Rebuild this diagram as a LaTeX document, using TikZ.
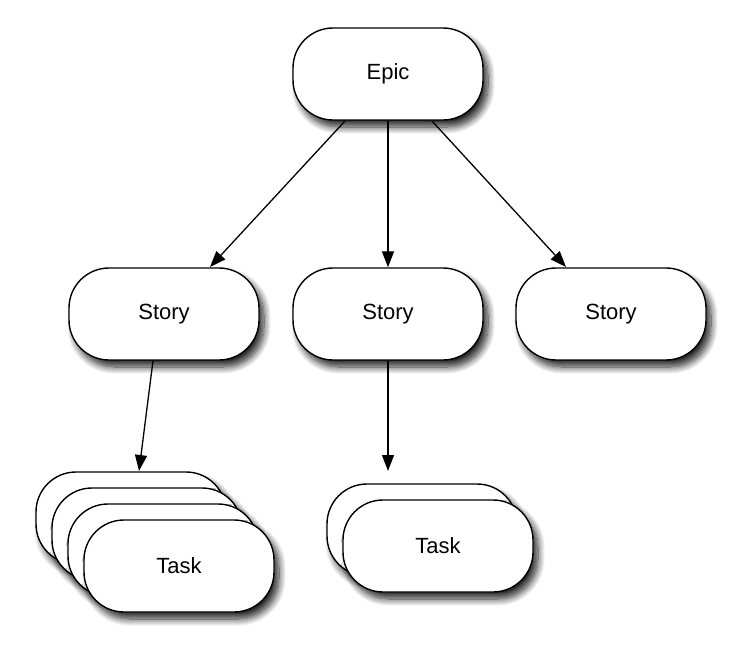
\documentclass[tikz,border=0pt]{standalone}
\usepackage{fontspec}
\setmainfont{Liberation Sans}
\usetikzlibrary{arrows.meta,shadows.blur}

\tikzset{
  pill/.style={draw,line width=1.4pt,fill=white,rounded corners=40pt,
    minimum width=190pt,minimum height=92pt,font=\fontsize{22}{26}\selectfont,
    blur shadow={shadow xshift=5pt,shadow yshift=-7pt,shadow blur radius=7pt,
      shadow blur steps=10,shadow opacity=85}},
  link/.style={-{Triangle[length=16pt,width=12pt]},line width=1.3pt}
}

\begin{document}
\begin{tikzpicture}[x=1pt,y=-1pt]

      \useasboundingbox (0,0) rectangle (737,655);

      % draw epic and stories
      \node[pill] (epic) at (388,74) {Epic};
      \node[pill] (storyL) at (164,314) {Story};
      \node[pill] (storyM) at (388,314) {Story};
      \node[pill] (storyR) at (611,314) {Story};

      % draw task stacks
      \foreach \i in {0,1,2}
      \node[pill] (taskL\i) at (131+16*\i,518+16*\i) {};
      \node[pill] (taskL) at (179,566) {Task};

      \node[pill] (taskM0) at (422,530) {};
      \node[pill] (taskM) at (438,546) {Task};

      % arrow ends
      \coordinate (eL) at (345,121);
      \coordinate (eR) at (432,121);
      \coordinate (sL) at (210,267);
      \coordinate (sR) at (566,267);
      \coordinate (tL) at (139,471);
      \coordinate (tM) at (388,471);

      % draw arrows
      \draw[link] (eL) -- (sL);
      \draw[link] (epic.south) -- (storyM.north);
      \draw[link] (eR) -- (sR);
      \draw[link] ([xshift=-11pt]storyL.south) -- (tL);
      \draw[link] (storyM.south) -- (tM);

\end{tikzpicture}
\end{document}
